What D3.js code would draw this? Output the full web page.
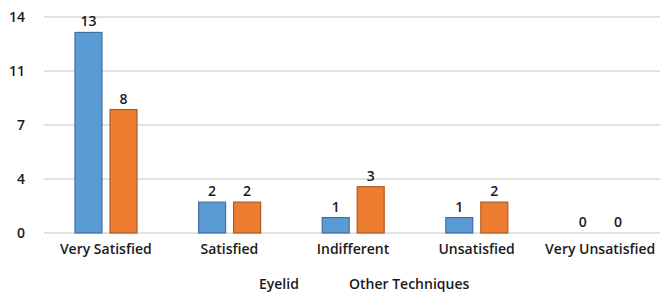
<!DOCTYPE html>
<html>
<head>
<meta charset="utf-8">
<script src="https://cdn.jsdelivr.net/npm/d3@7"></script>
<style>
  body { margin: 0; background: #fff; }
  text { font-family: "Open Sans", "Noto Sans", sans-serif; fill: #1a1a1a; font-weight: 600; }
</style>
</head>
<body>
<svg width="660" height="292"></svg>
<script>
const categories = ["Very Satisfied", "Satisfied", "Indifferent", "Unsatisfied", "Very Unsatisfied"];
const seriesNames = ["Eyelid", "Other Techniques"];
const eyelid = [13, 2, 1, 1, 0];
const otherTech = [8, 2, 3, 2, 0];
const tickValues = [0, 3.5, 7, 10.5, 14];
const tickLabels = ["0", "4", "7", "11", "14"];

const colors = ["#5b9bd5", "#ed7d31"];
const strokes = ["#41719c", "#ae5a21"];

let svg = d3.select("svg");
let margin = {left: 44, right: -2, top: 17, bottom: 59};
let width = 660 - margin.left - margin.right,
  height = 292 - margin.top - margin.bottom;

let g = svg.append("g").attr("transform", `translate(${margin.left},${margin.top})`);

let x = d3.scaleBand().domain(categories).range([0, width]);
let x1 = d3.scaleBand().domain(seriesNames).range([31, 93]).paddingInner(0.23);
let y = d3.scaleLinear().domain([0, 14]).range([height, 0]);

// gridlines
g.selectAll(".grid")
  .data(tickValues)
  .enter().append("line")
  .attr("x1", 0).attr("x2", width)
  .attr("y1", d => y(d)).attr("y2", d => y(d))
  .style("stroke", "#d9d9d9")
  .style("stroke-width", 1.5);

// y labels
g.selectAll(".ylab")
  .data(tickValues)
  .enter().append("text")
  .attr("x", -19)
  .attr("y", d => y(d) + 5)
  .attr("text-anchor", "end")
  .style("font-size", "14px")
  .text((d, i) => tickLabels[i]);

let rows = categories.map((c, i) => ({cat: c, vals: [eyelid[i], otherTech[i]]}));

let grp = g.selectAll(".cat")
  .data(rows)
  .enter().append("g")
  .attr("transform", d => `translate(${x(d.cat)},0)`);

grp.selectAll("rect")
  .data(d => d.vals.map((v, i) => ({v: v, s: seriesNames[i], i: i})))
  .enter().append("rect")
  .attr("x", d => x1(d.s))
  .attr("width", x1.bandwidth())
  .attr("y", d => y(d.v))
  .attr("height", d => height - y(d.v))
  .style("fill", d => colors[d.i])
  .style("stroke", d => strokes[d.i])
  .style("stroke-width", 1.2)
  .style("display", d => d.v === 0 ? "none" : null);

grp.selectAll(".val")
  .data(d => d.vals.map((v, i) => ({v: v, s: seriesNames[i], i: i})))
  .enter().append("text")
  .attr("x", d => x1(d.s) + x1.bandwidth() / 2)
  .attr("y", d => y(d.v) - 6)
  .attr("text-anchor", "middle")
  .style("font-size", "14px")
  .text(d => d.v);

// category labels
g.selectAll(".xlab")
  .data(categories)
  .enter().append("text")
  .attr("x", d => x(d) + x.bandwidth() / 2)
  .attr("y", height + 21)
  .attr("text-anchor", "middle")
  .style("font-size", "14px")
  .text(d => d);

// legend (markers fall below the visible area)
let legendX = [259, 349];
svg.selectAll(".leg")
  .data(seriesNames)
  .enter().append("text")
  .attr("x", (d, i) => legendX[i])
  .attr("y", 289)
  .style("font-size", "14px")
  .text(d => d);
</script>
</body>
</html>
